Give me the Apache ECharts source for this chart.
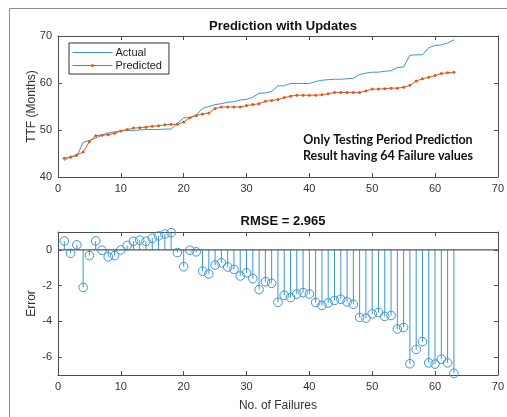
<!DOCTYPE html>
<html>
<head>
<meta charset="utf-8">
<script src="https://cdn.jsdelivr.net/npm/echarts@6/dist/echarts.min.js"></script>
<style>
  html, body { margin: 0; padding: 0; background: #fff; }
  #main { width: 507px; height: 417px; }
</style>
</head>
<body>
<div id="main"></div>
<script>
// failure number 1..63
const failures = [
  1, 2, 3, 4, 5, 6, 7, 8, 9, 10, 11, 12, 13, 14, 15, 16, 17, 18, 19, 20, 21,
  22, 23, 24, 25, 26, 27, 28, 29, 30, 31, 32, 33, 34, 35, 36, 37, 38, 39, 40, 41, 42,
  43, 44, 45, 46, 47, 48, 49, 50, 51, 52, 53, 54, 55, 56, 57, 58, 59, 60, 61, 62, 63
];
// TTF
const actual = [
  43.5, 44.4, 44.4, 47.4, 47.8, 48.3, 48.9, 49.4, 49.6, 49.8, 49.9, 49.9, 50.0, 50.1, 50.1, 50.1, 50.2, 50.2, 51.4, 52.6, 52.6,
  53.2, 54.6, 55.0, 55.4, 55.6, 55.9, 56.0, 56.4, 56.5, 57.0, 57.8, 57.9, 58.2, 59.4, 59.4, 59.9, 59.9, 59.9, 59.9, 60.3, 60.6,
  60.7, 60.8, 60.8, 60.9, 61.0, 61.8, 62.1, 62.3, 62.3, 62.5, 62.6, 63.3, 63.4, 65.9, 66.0, 66.0, 67.5, 68.0, 68.1, 68.5, 69.2
];
const predicted = [
  44.0, 44.2, 44.7, 45.3, 47.5, 48.8, 48.9, 49.0, 49.3, 49.8, 50.1, 50.4, 50.5, 50.6, 50.8, 50.9, 51.1, 51.2, 51.2, 51.7, 52.6,
  53.1, 53.4, 53.6, 54.6, 54.9, 54.9, 54.9, 54.9, 55.2, 55.4, 55.6, 56.1, 56.3, 56.5, 56.9, 57.2, 57.4, 57.4, 57.4, 57.4, 57.5,
  57.7, 58.0, 58.0, 58.0, 58.0, 58.0, 58.3, 58.7, 58.7, 58.8, 58.9, 58.9, 59.1, 59.5, 60.4, 60.9, 61.2, 61.6, 62.0, 62.2, 62.3
];
// error
const errors = [
  0.50, -0.19, 0.28, -2.10, -0.32, 0.50, -0.02, -0.39, -0.32, 0.00, 0.24, 0.48, 0.54, 0.48, 0.65, 0.78, 0.89, 0.96, -0.15, -0.94, -0.02,
  -0.11, -1.19, -1.35, -0.85, -0.72, -0.96, -1.09, -1.46, -1.28, -1.61, -2.22, -1.78, -1.87, -2.93, -2.54, -2.67, -2.47, -2.39, -2.47, -2.94, -3.11,
  -2.97, -2.83, -2.76, -2.91, -3.04, -3.78, -3.82, -3.58, -3.50, -3.72, -3.67, -4.43, -4.34, -6.37, -5.57, -5.13, -6.32, -6.39, -6.11, -6.32, -6.91
];
const ttfTicks = [40, 50, 60, 70];
const errTicks = [-6, -4, -2, 0];

const blue = '#3b95d8';
const orange = '#df5a1e';
const axisCol = '#4d4d4d';
const txtCol = '#333';
const font = 'Liberation Sans, Arial, sans-serif';

const chart = echarts.init(document.getElementById('main'), null, { renderer: 'canvas' });

function xAx(gridIndex, pos, labels, name) {
  return {
    type: 'value', gridIndex: gridIndex, position: pos, min: 0, max: 70, interval: 10,
    name: name || '', nameLocation: 'middle', nameGap: 25,
    nameTextStyle: { color: txtCol, fontSize: 12, fontFamily: font },
    axisLine: { show: true, onZero: false, lineStyle: { color: axisCol, width: 1 } },
    axisTick: { show: true, inside: true, length: 4, lineStyle: { color: axisCol } },
    axisLabel: { show: labels, color: txtCol, fontSize: 11, fontFamily: font, margin: 6 },
    splitLine: { show: false }
  };
}
function yAx(gridIndex, pos, labels, min, max, ticks, name, gap) {
  return {
    type: 'value', gridIndex: gridIndex, position: pos, min: min, max: max,
    name: name || '', nameLocation: 'middle', nameGap: gap || 24, nameMoveOverlap: false,
    nameTextStyle: { color: txtCol, fontSize: 12, fontFamily: font },
    axisLine: { show: true, onZero: false, lineStyle: { color: axisCol, width: 1 } },
    axisTick: { show: true, inside: true, length: 4, customValues: ticks, lineStyle: { color: axisCol } },
    axisLabel: { show: labels, color: txtCol, fontSize: 11, fontFamily: font, margin: 6, customValues: ticks },
    splitLine: { show: false }
  };
}

const option = {
  animation: false,
  backgroundColor: '#fff',
  title: [
    { text: 'Prediction with Updates', left: 278, top: 15, textAlign: 'center',
      textStyle: { fontSize: 13, fontWeight: 'bold', color: '#111', fontFamily: font } },
    { text: 'RMSE = 2.965', left: 278, top: 210, textAlign: 'center',
      textStyle: { fontSize: 13, fontWeight: 'bold', color: '#111', fontFamily: font } }
  ],
  legend: {
    orient: 'vertical', left: 69, top: 43,
    data: [
      { name: 'Actual', itemStyle: { opacity: 0 } },
      { name: 'Predicted' }
    ],
    itemWidth: 40, itemHeight: 4, itemGap: 2,
    padding: [4, 7, 3, 3],
    lineStyle: { width: 1 },
    borderColor: '#333', borderWidth: 1, backgroundColor: '#fff',
    textStyle: { color: '#222', fontSize: 11, fontFamily: font, padding: [0, 0, 0, -2] }
  },
  grid: [
    { left: 58, top: 36, width: 441, height: 141 },
    { left: 58, top: 232, width: 441, height: 143 }
  ],
  xAxis: [
    xAx(0, 'bottom', true),
    xAx(0, 'top', false),
    xAx(1, 'bottom', true, 'No. of Failures'),
    xAx(1, 'top', false)
  ],
  yAxis: [
    yAx(0, 'left', true, 40, 70, ttfTicks, 'TTF (Months)', 20),
    yAx(0, 'right', false, 40, 70, ttfTicks),
    yAx(1, 'left', true, -7, 1, errTicks, 'Error', 20),
    yAx(1, 'right', false, -7, 1, errTicks)
  ],
  graphic: [
    // window frame around the figure
    { type: 'line', shape: { x1: 9.5, y1: 8.5, x2: 9.5, y2: 417 }, style: { stroke: '#8c8c8c', lineWidth: 1 } },
    { type: 'line', shape: { x1: 9.5, y1: 8.5, x2: 507, y2: 8.5 }, style: { stroke: '#8c8c8c', lineWidth: 1 } },
    { type: 'text', x: 388, y: 132, style: {
        text: 'Only Testing Period Prediction\nResult having 64 Failure values',
        align: 'center', verticalAlign: 'top', lineHeight: 16,
        font: 'bold 12.5px Lato, "Open Sans", sans-serif', fill: '#111' } }
  ],
  series: [
    {
      name: 'Actual', type: 'line', xAxisIndex: 0, yAxisIndex: 0,
      data: failures.map((f, i) => [f, actual[i]]),
      symbol: 'none', lineStyle: { color: blue, width: 1 }, itemStyle: { color: blue }
    },
    {
      name: 'Predicted', type: 'line', xAxisIndex: 0, yAxisIndex: 0,
      data: failures.map((f, i) => [f, predicted[i]]),
      symbol: 'circle', symbolSize: 3, showSymbol: true,
      lineStyle: { color: orange, width: 1 }, itemStyle: { color: orange }
    },
    // stem baseline
    {
      type: 'line', xAxisIndex: 2, yAxisIndex: 2, silent: true,
      data: [[0, 0], [70, 0]], symbol: 'none',
      lineStyle: { color: '#555', width: 1.2 }
    },
    {
      type: 'custom', xAxisIndex: 2, yAxisIndex: 2,
      data: failures.map((f, i) => [f, errors[i]]),
      renderItem: function (params, api) {
        const p0 = api.coord([api.value(0), 0]);
        const p1 = api.coord([api.value(0), api.value(1)]);
        return {
          type: 'group',
          children: [
            { type: 'line', shape: { x1: p0[0], y1: p0[1], x2: p1[0], y2: p1[1] },
              style: { stroke: blue, lineWidth: 1 } },
            { type: 'circle', shape: { cx: p1[0], cy: p1[1], r: 4.3 },
              style: { stroke: blue, fill: 'none', lineWidth: 1 } }
          ]
        };
      }
    }
  ]
};
chart.setOption(option);
</script>
</body>
</html>
